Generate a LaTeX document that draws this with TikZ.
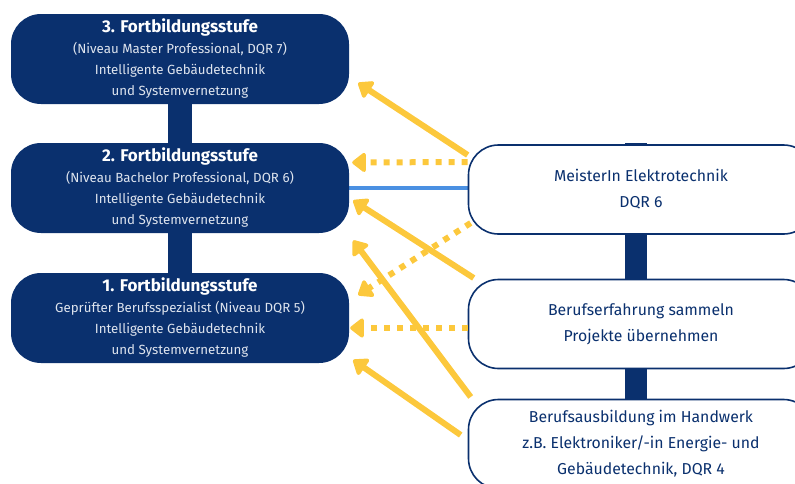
\documentclass[tikz,border=0pt]{standalone}
\usepackage{fontspec}
\setmainfont{Fira Sans}
\usetikzlibrary{arrows.meta,backgrounds}

\begin{document}
\begin{tikzpicture}[x=1pt,y=-1pt,
  stufe/.style={rectangle,rounded corners=30pt,fill=ldark,minimum width=338pt,minimum height=90pt,inner sep=0pt,align=center,text=llight,font=\fontsize{13.3}{21}\selectfont},
  weg/.style={rectangle,rounded corners=30pt,draw=ldark,line width=1.6pt,fill=white,minimum width=345pt,minimum height=89pt,inner sep=0pt,align=center,text=ldark,font=\fontsize{15.8}{26}\selectfont},
  pfeil/.style={-{Triangle[length=15pt,width=22pt,round]},line width=6pt,lyellow},
  pfeilpunkt/.style={pfeil,dash pattern=on 6pt off 7pt}]
  \definecolor{ldark}{RGB}{10,48,110}
  \definecolor{llight}{RGB}{222,228,238}
  \definecolor{lyellow}{RGB}{252,200,60}
  \definecolor{lblue}{RGB}{74,144,226}
  \useasboundingbox (0,0) rectangle (795,483);
  % Fortbildungsstufen
  \node[stufe] (box3) at (180,59) {{\fontsize{17}{21}\selectfont\bfseries\color{white}3. Fortbildungsstufe}\\(Niveau Master Professional, DQR 7)\\Intelligente Gebäudetechnik\\und Systemvernetzung};
  \node[stufe] (box2) at (180,188) {{\fontsize{17}{21}\selectfont\bfseries\color{white}2. Fortbildungsstufe}\\(Niveau Bachelor Professional, DQR 6)\\Intelligente Gebäudetechnik\\und Systemvernetzung};
  \node[stufe] (box1) at (180,318) {{\fontsize{17}{21}\selectfont\bfseries\color{white}1. Fortbildungsstufe}\\Geprüfter Berufsspezialist (Niveau DQR 5)\\Intelligente Gebäudetechnik\\und Systemvernetzung};
  % Wege
  \node[weg] (meister) at (641,189.5) {MeisterIn Elektrotechnik\\DQR 6};
  \node[weg] (erfahrung) at (641,324) {Berufserfahrung sammeln\\Projekte übernehmen};
  \node[weg] (ausbildung) at (641,444) {Berufsausbildung im Handwerk\\z.B. Elektroniker/-in Energie- und\\Gebäudetechnik, DQR 4};
  \begin{pgfonlayer}{background}
    \draw[ldark,line width=24pt] (box3.center) -- (box1.center);
    \draw[ldark,line width=22pt] ([xshift=-5pt,yshift=1pt]meister.north) -- ([xshift=-5pt]ausbildung.center);
    \draw[lblue,line width=3.5pt] (box2.east) -- (box2.east -| meister.west);
  \end{pgfonlayer}
  % Pfeile
  \draw[pfeil] ([yshift=34.5pt]meister.west) -- ([xshift=9pt,yshift=-24pt]box3.east);
  \draw[pfeilpunkt] ([yshift=27.5pt]meister.west) -- ([xshift=3pt,yshift=25.5pt]box2.east);
  \draw[pfeil] ([xshift=6pt,yshift=46pt]erfahrung.west) -- ([xshift=4pt,yshift=-12.5pt]box2.east);
  \draw[pfeilpunkt] ([xshift=3pt,yshift=-33.5pt]meister.west) -- ([xshift=9pt,yshift=23pt]box1.east);
  \draw[pfeil] ([xshift=3pt,yshift=47pt]ausbildung.west) -- ([xshift=4pt,yshift=-52.5pt]box2.east);
  \draw[pfeilpunkt] ([yshift=-4pt]erfahrung.west) -- ([xshift=1pt,yshift=-10pt]box1.east);
  \draw[pfeil] ([xshift=-7pt,yshift=9pt]ausbildung.west) -- ([xshift=4pt,yshift=-42pt]box1.east);
\end{tikzpicture}
\end{document}
